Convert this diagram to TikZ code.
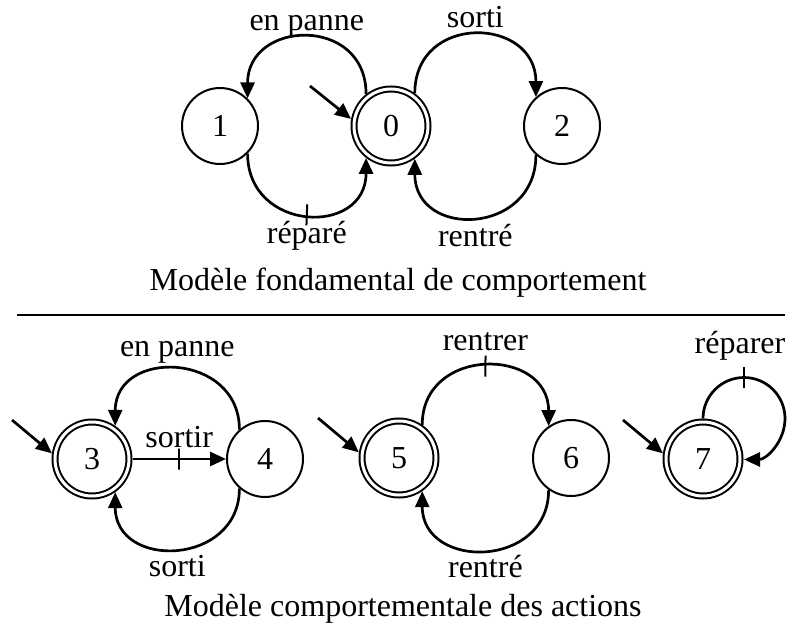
\documentclass[tikz,border=0pt]{standalone}
\usepackage{fontspec}
\setmainfont{Liberation Serif}
\usetikzlibrary{arrows.meta,positioning}

\begin{document}
\begin{tikzpicture}[x=1pt, y=-1pt, font=\fontsize{32}{38}\selectfont]
      \tikzstyle{snode} = [draw, circle, line width=2pt, minimum size=76pt, inner sep=0pt]
      \tikzstyle{fnode} = [snode, double, double distance=3pt, minimum size=74pt, outer sep=3.5pt]
      \tikzstyle{trans} = [line width=2.7pt, -{Triangle[length=16pt,width=14pt]}]
      \tikzstyle{lbl} = [anchor=base, inner sep=0pt]
      \tikzstyle{tickmark} = [draw, line width=2pt, minimum width=0pt, minimum height=21pt, inner sep=0pt, sloped]

      \useasboundingbox (0,0) rectangle (789,631);

      %%%%%%%%%%%%%%%%%%%%%%%%%%%%%% 
      %% Modele fondamental
      %%%%%%%%%%%%%%%%%%%%%%%%%%%%%% 
      \begin{scope}[local bounding box=fond]
        \node[snode] (s1) at (220,126) {1};
        \node[fnode] (s0) at (391,126) {0};
        \node[snode] (s2) at (562,126) {2};

        \coordinate (i0) at (310,86);
        \draw[trans] (i0) -- (s0.170);

        \draw[trans] (s0.128) to[out=90,in=90,looseness=1.7]
          node[lbl, yshift=7pt] (l01) {en panne} (s1.45);
        \draw[trans] (s1.-45) to[out=-90,in=-90,looseness=1.7]
          node[tickmark] (t10) {} node[lbl, yshift=-29pt] (l10) {réparé} (s0.-128);

        \draw[trans] (s0.54) to[out=90,in=90,looseness=1.7]
          node[lbl, yshift=7pt] (l02) {sorti} (s2.132);
        \draw[trans] (s2.-132) to[out=-90,in=-90,looseness=1.7]
          node[lbl, yshift=-29pt] (l20) {rentré} (s0.-54);

        \node[lbl] (titre1) at (398,290) {Modèle fondamental de comportement};
      \end{scope}

      \draw[line width=1.5pt] (17,315) -- (785,315);

      %%%%%%%%%%%%%%%%%%%%%%%%%%%%%% 
      %% Modele des actions
      %%%%%%%%%%%%%%%%%%%%%%%%%%%%%% 
      \begin{scope}[local bounding box=actions]
        \node[fnode] (s3) at (92,459) {3};
        \node[snode] (s4) at (265,459) {4};
        \node[fnode] (s5) at (399,458) {5};
        \node[snode] (s6) at (571,458) {6};
        \node[fnode] (s7) at (703,459) {7};

        \coordinate (i3) at (12,420);
        \coordinate (i5) at (318,418);
        \coordinate (i7) at (623,420);
        \draw[trans] (i3) -- (s3.172);
        \draw[trans] (i5) -- (s5.172);
        \draw[trans] (i7) -- (s7.172);

        % sortir / en panne / sorti
        \draw[trans] (s3) -- node[tickmark] (t34) {} node[lbl, yshift=12pt] (l34) {sortir} (s4);
        \draw[trans] (s4.131) to[out=90,in=90,looseness=1.6]
          node[lbl, yshift=13pt] (l43a) {en panne} (s3.55);
        \draw[trans] (s4.-131) to[out=-90,in=-90,looseness=1.6]
          node[lbl, yshift=-28pt] (l43b) {sorti} (s3.-55);

        % rentrer / rentre
        \draw[trans] (s5.55) to[out=90,in=90,looseness=1.6]
          node[tickmark] (t56) {} node[lbl, yshift=16pt] (l56) {rentrer} (s6.125);
        \draw[trans] (s6.-125) to[out=-90,in=-90,looseness=1.6]
          node[lbl, yshift=-28pt] (l65) {rentré} (s5.-55);

        % reparer
        \draw[trans] (s7.north) arc[start angle=180, end angle=-90, radius=41pt];
        \node[tickmark] (t77) at ([xshift=41pt, yshift=41pt]s7.north) {};
        \node[lbl] (l77) at (740,353) {réparer};

        \node[lbl] (titre2) at (403,616) {Modèle comportementale des actions};
      \end{scope}
\end{tikzpicture}
\end{document}
